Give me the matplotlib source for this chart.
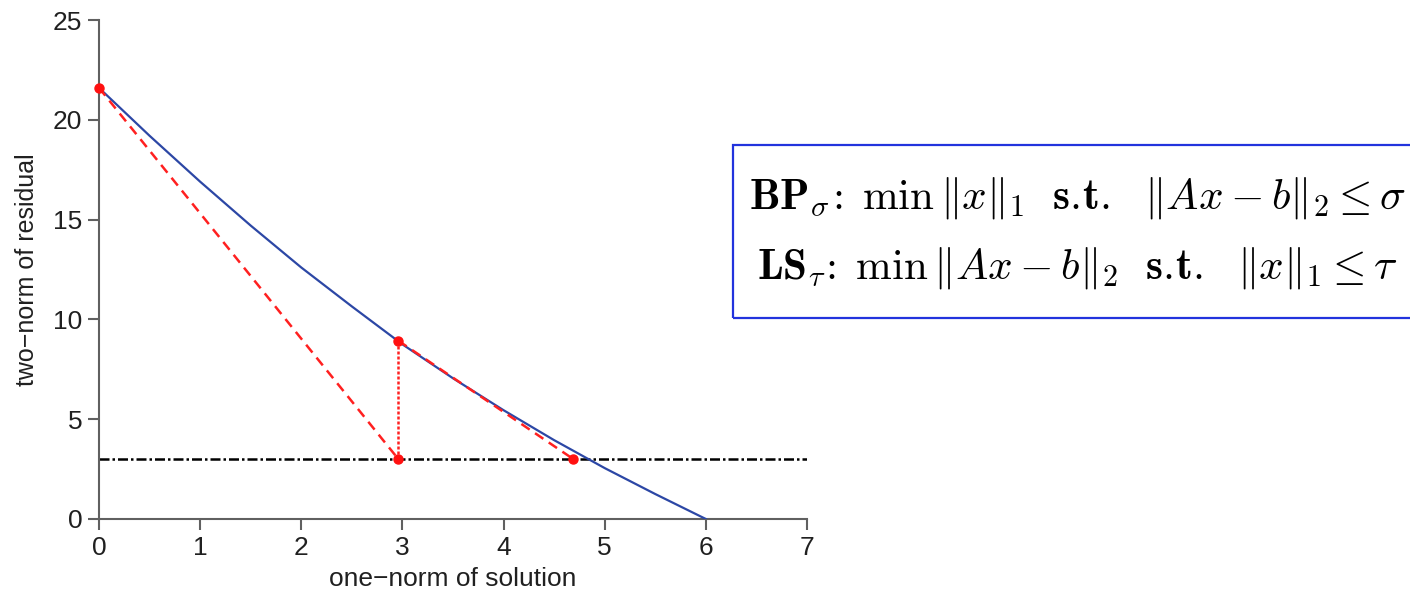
import matplotlib
matplotlib.use("Agg")
import matplotlib.pyplot as plt
from matplotlib.patches import Rectangle

plt.rcParams['font.family'] = ['Liberation Sans', 'DejaVu Sans']
plt.rcParams['mathtext.fontset'] = 'cm'

# Pareto curve
x_curve = [0, 0.5, 1, 1.5, 2, 2.5, 3, 3.5, 4, 4.5, 5, 5.5, 6]
y_curve = [21.6, 19.2, 16.9, 14.7, 12.6, 10.65, 8.75, 7.05, 5.45, 3.95, 2.55, 1.25, 0]

sigma = 3.0
x_start, y_start = 0.0, 21.6
tau1, y_tau1 = 2.96, 8.93
tau2 = 4.69

xticks = [0, 1, 2, 3, 4, 5, 6, 7]
yticks = [0, 5, 10, 15, 20, 25]

fig = plt.figure(figsize=(14.1, 5.89), dpi=100)
ax = fig.add_axes([99 / 1410, 70 / 589, 708 / 1410, 499 / 589])

spine_col = '#606060'
text_col = '#202020'

# sigma level
ax.plot([0, 7], [sigma, sigma], color='black', lw=1.8,
        linestyle=(0, (4, 1.2, 1, 1.2)), zorder=2)

# pareto curve
ax.plot(x_curve, y_curve, color='#2c47a5', lw=1.6, zorder=3)

# newton steps
ax.plot([x_start, tau1], [y_start, sigma], color='#ff2020', lw=1.8,
        linestyle=(0, (4, 2.6)), zorder=4)
ax.plot([tau1, tau2], [y_tau1, sigma], color='#ff2020', lw=1.8,
        linestyle=(0, (4, 2.6)), zorder=4)
ax.plot([tau1, tau1], [y_tau1, sigma], color='#ff2020', lw=1.8,
        linestyle=(0, (1.2, 0.8)), zorder=4)
ax.plot([x_start, tau1, tau1, tau2], [y_start, y_tau1, sigma, sigma], 'o',
        color='#ff1010', ms=6.5, zorder=5, clip_on=False)

ax.set_xlim(0, 7)
ax.set_ylim(0, 25)
ax.set_xticks(xticks)
ax.set_yticks(yticks)
for s in ['top', 'right']:
    ax.spines[s].set_visible(False)
for s in ['left', 'bottom']:
    ax.spines[s].set_color(spine_col)
    ax.spines[s].set_linewidth(1.5)
ax.tick_params(direction='out', length=8, width=1.5, color=spine_col,
               labelsize=19, labelcolor=text_col, pad=4)
ax.set_xlabel('one\u2212norm of solution', fontsize=19, color=text_col, labelpad=5)
ax.set_ylabel('two\u2212norm of residual', fontsize=18, color=text_col, labelpad=10)

# formulation box
box = Rectangle((733 / 1410, 271 / 589), 700 / 1410, 173 / 589,
                transform=fig.transFigure, fill=False, edgecolor='#2233dd',
                lw=1.6, clip_on=False)
fig.patches.append(box)
fig.text(1077 / 1410, 1 - 198 / 589,
         r'$\mathbf{BP}_{\sigma}\!\mathbf{:}\;\min\,\|x\|_1\ \ \mathbf{s.\!t.}\ \ \|Ax-b\|_2\leq\sigma$',
         fontsize=31, ha='center', va='center', color='black')
fig.text(1077 / 1410, 1 - 268 / 589,
         r'$\mathbf{LS}_{\tau}\!\mathbf{:}\;\min\,\|Ax-b\|_2\ \ \mathbf{s.\!t.}\ \ \|x\|_1\leq\tau$',
         fontsize=31, ha='center', va='center', color='black')

fig.savefig('out.png', dpi=100)
